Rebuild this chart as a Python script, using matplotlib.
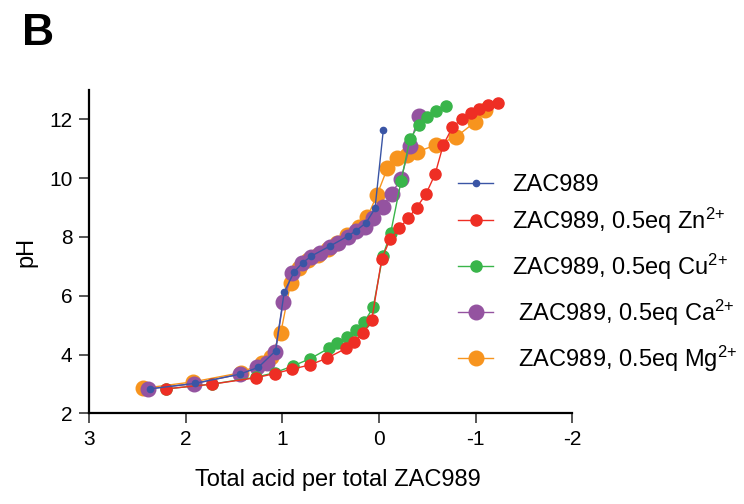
import matplotlib
matplotlib.use("Agg")
import matplotlib.pyplot as plt

plt.rcParams['font.family'] = ['Liberation Sans', 'DejaVu Sans']
plt.rcParams['mathtext.fontset'] = 'custom'
plt.rcParams['mathtext.rm'] = 'Liberation Sans'
plt.rcParams['mathtext.it'] = 'Liberation Sans:italic'
plt.rcParams['mathtext.bf'] = 'Liberation Sans:bold'
plt.rcParams['axes.unicode_minus'] = False

# titration data: acid per ZAC989 (x), pH (y)
x_free = [2.37, 1.90, 1.44, 1.25, 1.07, 0.98, 0.876, 0.79, 0.70, 0.507, 0.32, 0.238, 0.134, 0.041, -0.045]
y_free = [2.83, 3.02, 3.33, 3.56, 4.12, 6.13, 6.82, 7.12, 7.35, 7.69, 8.03, 8.21, 8.48, 8.97, 11.64]

x_zn = [2.20, 1.73, 1.27, 1.08, 0.90, 0.71, 0.535, 0.34, 0.255, 0.16, 0.075, -0.028, -0.114, -0.21,
        -0.30, -0.39, -0.486, -0.58, -0.665, -0.76, -0.86, -0.95, -1.04, -1.13, -1.23]
y_zn = [2.83, 2.99, 3.21, 3.35, 3.50, 3.65, 3.88, 4.21, 4.44, 4.72, 5.17, 7.24, 7.92, 8.29,
        8.63, 9.00, 9.46, 10.13, 11.13, 11.73, 12.03, 12.22, 12.37, 12.49, 12.56]

x_cu = [2.20, 1.73, 1.27, 1.08, 0.89, 0.71, 0.52, 0.43, 0.33, 0.24, 0.15, 0.06, -0.04, -0.12,
        -0.23, -0.32, -0.41, -0.50, -0.59, -0.69]
y_cu = [2.83, 2.99, 3.23, 3.38, 3.61, 3.86, 4.21, 4.40, 4.61, 4.82, 5.12, 5.60, 7.36, 8.12,
        9.92, 11.33, 11.80, 12.09, 12.29, 12.45]

x_ca = [2.39, 1.91, 1.44, 1.26, 1.16, 1.075, 0.99, 0.90, 0.80, 0.70, 0.61, 0.51, 0.42, 0.32,
        0.24, 0.145, 0.059, -0.038, -0.13, -0.228, -0.32, -0.41]
y_ca = [2.83, 3.01, 3.33, 3.56, 3.72, 4.07, 5.79, 6.78, 7.10, 7.32, 7.44, 7.65, 7.78, 7.99,
        8.20, 8.33, 8.63, 9.03, 9.47, 9.98, 11.10, 12.13]

x_mg = [2.44, 1.92, 1.43, 1.21, 1.12, 1.017, 0.913, 0.83, 0.73, 0.63, 0.53, 0.43, 0.33, 0.21,
        0.12, 0.02, -0.086, -0.19, -0.29, -0.39, -0.59, -0.80, -0.99, -1.10]
y_mg = [2.85, 3.07, 3.38, 3.70, 3.90, 4.72, 6.45, 6.95, 7.22, 7.40, 7.58, 7.78, 8.06, 8.33,
        8.68, 9.43, 10.33, 10.67, 10.79, 10.89, 11.13, 11.41, 11.90, 12.32]

fig = plt.figure(figsize=(7.44, 5.04), dpi=100)
ax = fig.add_axes([0.1196, 0.180, 0.6496, 0.6414])

h_mg, = ax.plot(x_mg, y_mg, '-o', color='#F7941E', ms=10.5, lw=1, label=r' ZAC989, 0.5eq Mg$^{2{+}}$')
h_ca, = ax.plot(x_ca, y_ca, '-o', color='#9453A0', ms=10.5, lw=1, label=r' ZAC989, 0.5eq Ca$^{2{+}}$')
h_cu, = ax.plot(x_cu, y_cu, '-o', color='#39B54A', ms=8, lw=1, label=r'ZAC989, 0.5eq Cu$^{2{+}}$')
h_zn, = ax.plot(x_zn, y_zn, '-o', color='#EE2E24', ms=8, lw=1, label=r'ZAC989, 0.5eq Zn$^{2{+}}$')
h_free, = ax.plot(x_free, y_free, '-o', color='#3A55A5', ms=4.5, lw=1, label='ZAC989')

ax.set_xlim(3, -2)
ax.set_ylim(2, 13)
ax.set_xticks([3, 2, 1, 0, -1, -2])
ax.set_yticks([2, 4, 6, 8, 10, 12])
for s in ['top', 'right']:
    ax.spines[s].set_visible(False)
for s in ['left', 'bottom']:
    ax.spines[s].set_linewidth(1.6)
ax.tick_params(direction='out', length=7, width=1.4, color='#555555', labelsize=15, pad=5)
ax.set_xlabel('Total acid per total ZAC989', fontsize=17)
ax.xaxis.set_label_coords(0.514, -0.172)
ax.set_ylabel('pH', fontsize=17, labelpad=8)

leg_kw = dict(loc='center left', frameon=False, fontsize=17, handlelength=1.5,
              handletextpad=0.8, borderpad=0, borderaxespad=0)
fig.legend(handles=[h_free], bbox_to_anchor=(458 / 744, 1 - 185 / 504), **leg_kw)
fig.legend(handles=[h_zn, h_cu, h_ca, h_mg], bbox_to_anchor=(458 / 744, 1 - 289.5 / 504),
           labelspacing=0.67, **leg_kw)

fig.text(0.03, 0.975, 'B', fontsize=32, fontweight='bold', va='top', ha='left')

fig.savefig('out.png', dpi=100)
